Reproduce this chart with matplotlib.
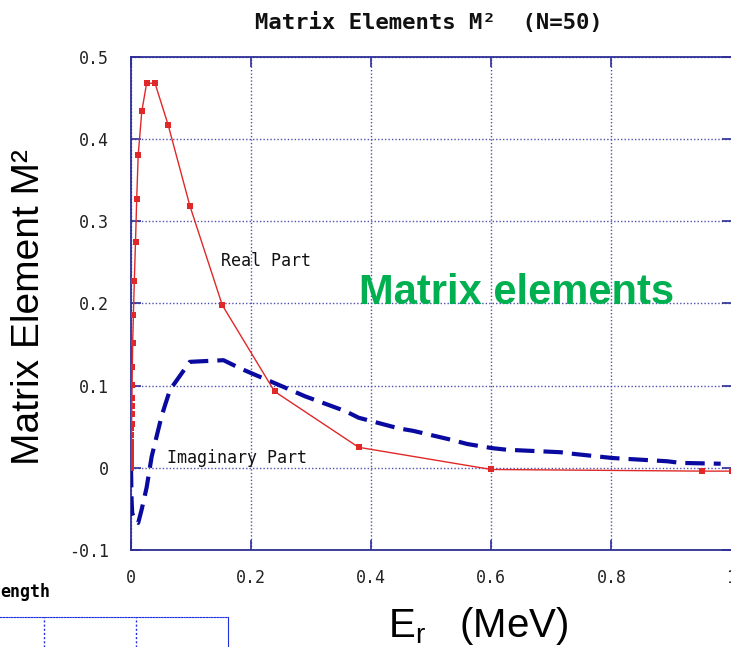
import matplotlib
matplotlib.use("Agg")
import matplotlib.pyplot as plt

# ---- data ----
real_x = [0.0, 0.0001, 0.0002, 0.0003, 0.0004, 0.0005, 0.0006, 0.0007, 0.0008, 0.0009,
          0.0011, 0.0013, 0.0015, 0.0018, 0.0022, 0.0028, 0.004, 0.0055, 0.0075, 0.0095,
          0.012, 0.018, 0.026, 0.04, 0.062, 0.098, 0.152, 0.239, 0.379, 0.6, 0.951, 1.0]
real_y = [0.0, 0.004, 0.008, 0.012, 0.018, 0.024, 0.032, 0.04, 0.048, 0.053,
          0.065, 0.075, 0.085, 0.101, 0.123, 0.152, 0.186, 0.227, 0.275, 0.327,
          0.381, 0.434, 0.468, 0.468, 0.417, 0.319, 0.198, 0.093, 0.025, -0.002, -0.004, -0.004]

imag_x = [0.0, 0.0005, 0.001, 0.002, 0.0067, 0.012, 0.018, 0.026, 0.0345, 0.051, 0.057, 0.065,
          0.098, 0.154, 0.182, 0.201, 0.265, 0.29, 0.357, 0.379, 0.446, 0.47, 0.534, 0.56,
          0.601, 0.626, 0.715, 0.737, 0.801, 0.823, 0.893, 0.915, 0.982]
imag_y = [0.0, -0.02, -0.04, -0.055, -0.065, -0.067, -0.05, -0.024, 0.014, 0.063, 0.077, 0.095,
          0.129, 0.131, 0.121, 0.115, 0.095, 0.087, 0.069, 0.061, 0.048, 0.045, 0.034, 0.029,
          0.024, 0.022, 0.019, 0.017, 0.012, 0.011, 0.008, 0.006, 0.005]

x_ticks = [0, 0.2, 0.4, 0.6, 0.8, 1.0]
x_ticklabels = ["0", "0.2", "0.4", "0.6", "0.8", "1"]
y_ticks = [-0.1, 0, 0.1, 0.2, 0.3, 0.4, 0.5]
y_ticklabels = ["-0.1", "0", "0.1", "0.2", "0.3", "0.4", "0.5"]

plt.rcParams['lines.scale_dashes'] = False

fig = plt.figure(figsize=(7.31, 6.47), dpi=100)
ax = fig.add_axes([131 / 731, 97 / 647, 600.5 / 731, 493 / 647])

spine_c = "#2e2e96"
grid_c = "#5050b0"
mono = "DejaVu Sans Mono"

ax.plot(imag_x, imag_y, color="#0a0aa0", lw=3.0, dashes=(14, 6.5),
        solid_capstyle="butt", dash_capstyle="butt", zorder=3)
ax.plot(real_x, real_y, color="#e02828", lw=1.0, marker="s", ms=4.2,
        markeredgewidth=0, zorder=4)

ax.set_xlim(0, 1)
ax.set_ylim(-0.1, 0.5)
ax.set_xticks(x_ticks)
ax.set_xticklabels(x_ticklabels)
ax.set_yticks(y_ticks)
ax.set_yticklabels(y_ticklabels)
ax.tick_params(direction="in", length=7, width=1.2, color=spine_c,
               top=True, right=True, labelsize=12, labelcolor="#222222")
ax.tick_params(axis="x", pad=14)
ax.tick_params(axis="y", pad=16)
for lab in ax.get_xticklabels() + ax.get_yticklabels():
    lab.set_family(mono)
ax.grid(True, color=grid_c, linestyle=(0, (1, 1.5)), lw=1.0)
for s in ax.spines.values():
    s.set_color(spine_c)
    s.set_linewidth(1.3)

ax.text(0.15, 0.252, "Real Part", family=mono, fontsize=12, va="center",
        ha="left", color="#111111")
ax.text(0.06, 0.012, "Imaginary Part", family=mono, fontsize=12, va="center",
        ha="left", color="#111111")

fig.text(429 / 731, 1 - 22 / 647, "Matrix Elements M\u00b2  (N=50)", family=mono,
         fontsize=16, fontweight="bold", ha="center", va="center", color="#111111")

fig.text(29 / 731, 1 - 307 / 647, "Matrix Element M\u00b2", family="Liberation Sans",
         fontsize=28, rotation=90, ha="center", va="center", color="black")
fig.text(478 / 731, 1 - 626 / 647, "E$_\\mathregular{r}$   (MeV)", family="Liberation Sans",
         fontsize=29, ha="center", va="center", color="black")

fig.text(517 / 731, 1 - 293 / 647, "Matrix elements", family="Liberation Sans",
         fontsize=30, fontweight="bold", ha="center", va="center", color="#00b050")

# fragment of neighbouring chart at bottom-left
fig.text(0, 1 - 592 / 647, "ength", family=mono, fontsize=12, fontweight="bold",
         ha="left", va="center", color="black")
ax2 = fig.add_axes([0, 0, 228 / 731, 30 / 647])
ax2.set_xlim(0, 228)
ax2.set_ylim(0, 1)
ax2.set_xticks([])
ax2.set_yticks([])
ax2.patch.set_alpha(0)
for side in ("left", "bottom"):
    ax2.spines[side].set_visible(False)
ax2.spines["top"].set_color("#2030e0")
ax2.spines["top"].set_linestyle((0, (1, 1)))
ax2.spines["right"].set_color("#2030e0")
for xv in (44, 136):
    ax2.axvline(xv, color="#2030e0", lw=1, linestyle=(0, (1.5, 1.5)))

fig.savefig("out.png", dpi=100)
